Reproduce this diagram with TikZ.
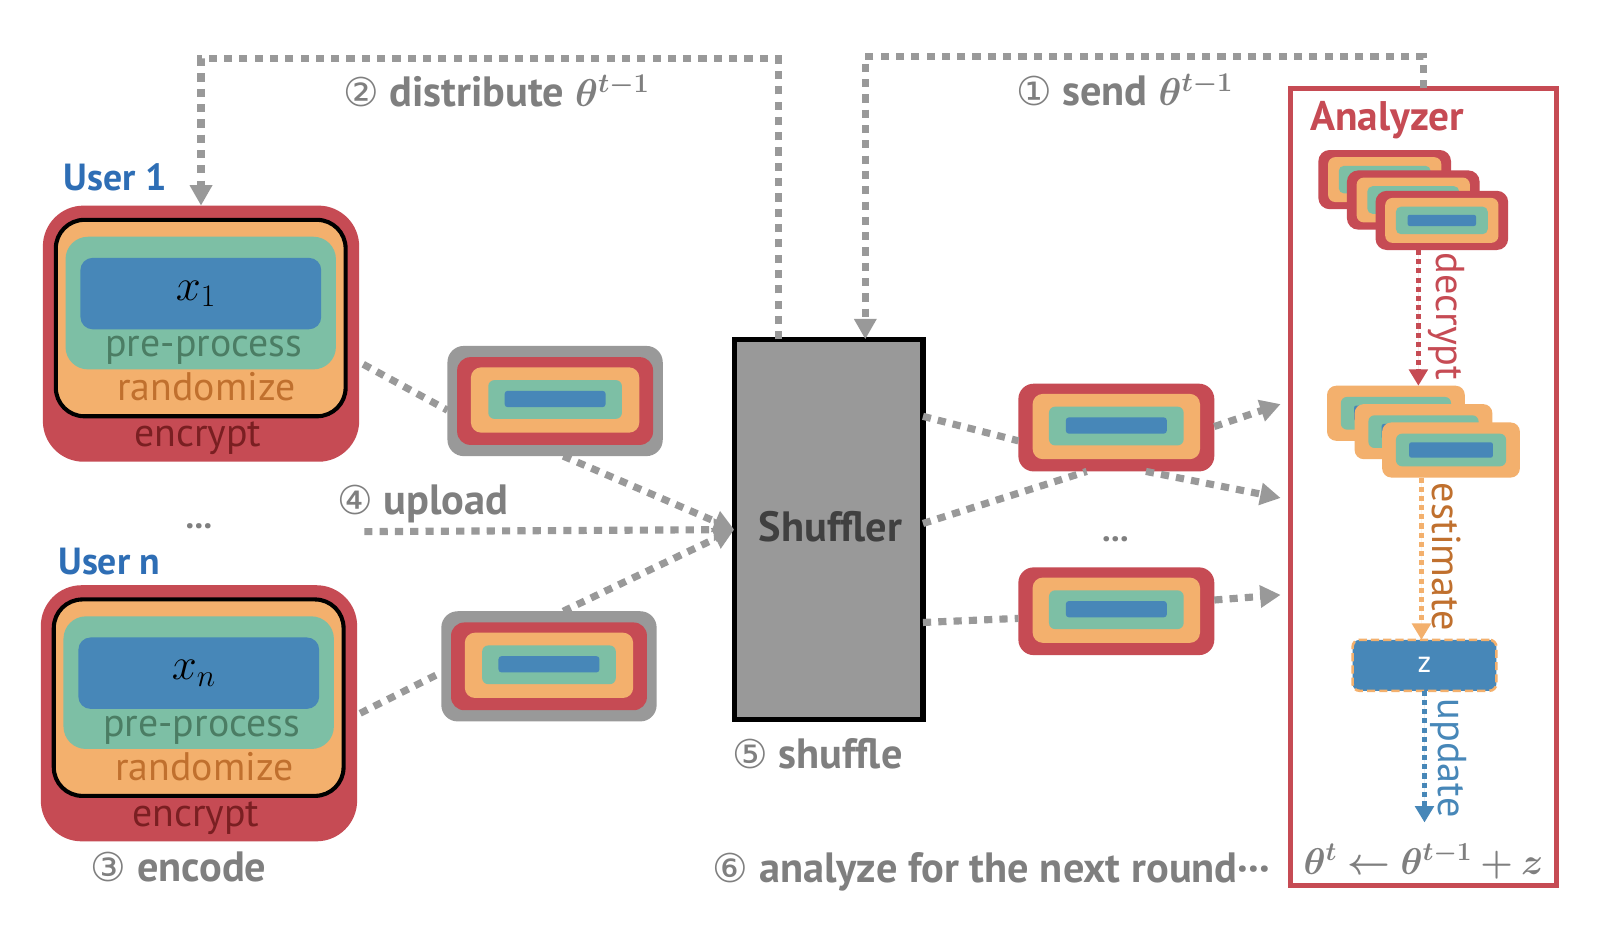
\RequirePackage{fix-cm}
\documentclass[tikz,border=0pt]{standalone}
\usepackage{amsmath,bm}
\usepackage{fontspec}
\setmainfont{PT Sans}
\newfontfamily\dvfont{DejaVu Sans}
\usetikzlibrary{arrows.meta,calc}
\definecolor{cred}{HTML}{C64B54}
\definecolor{corange}{HTML}{F3B06D}
\definecolor{cgreen}{HTML}{7DBFA5}
\definecolor{cblue}{HTML}{4787B8}
\definecolor{lgray}{HTML}{999999}
\definecolor{tgray}{HTML}{7F7F7F}
\definecolor{ublue}{HTML}{2E6EB5}
\definecolor{tgreen}{HTML}{4B7D64}
\definecolor{torange}{HTML}{C0702E}
\definecolor{tred}{HTML}{7A1F22}
\definecolor{sgray}{HTML}{404040}
\newcommand{\myfs}[1]{\fontsize{#1pt}{#1pt}\selectfont}
\newcommand{\circd}[1]{{\dvfont\mdseries\myfs{39}#1}}
\newcommand{\thetam}{{\myfs{38}$\bm{\theta^{t-1}}$}}
\tikzset{
  box/.style={rectangle, inner sep=0pt, outer sep=0pt, draw=none},
  dotline/.style={draw=lgray, line width=7pt, dash pattern=on 8pt off 7pt},
  gtip/.style={-{Triangle[length=20pt,width=21pt]}},
  lbl/.style={text=tgray, font=\bfseries\myfs{41.5}, inner sep=0pt, anchor=base},
  inlbl/.style={font=\myfs{39}, inner sep=0pt, anchor=base},
  anlbl/.style={font=\myfs{39.5}, inner sep=0pt, rotate=-90},
  smallarrow/.style={line width=4.5pt, dash pattern=on 5pt off 4pt, -{Triangle[length=16pt,width=18pt]}},
}
% user box: name, cx, cy, math
\newcommand{\userbox}[4]{%
  \node[box, fill=cred, minimum width=310pt, minimum height=251pt, rounded corners=40pt] (#1) at (#2,#3) {};
  \node[box, fill=corange, draw=black, line width=4pt, minimum width=284pt, minimum height=192.5pt, rounded corners=28pt] (#1o) at (#2-0.3,#3-15.3) {};
  \node[box, fill=cgreen, minimum width=265pt, minimum height=130pt, rounded corners=22pt] (#1g) at (#2-0.3,#3-30) {};
  \node[box, fill=cblue, minimum width=236pt, minimum height=70pt, rounded corners=12pt] (#1b) at (#2-0.2,#3-39.3) {};
  \node[inner sep=0pt, font=\myfs{44}] (#1x) at (#2-5,#3-39) {$#4$};
  \node[inlbl, text=tgreen] (#1pp) at (#2+2.7,#3+22.5) {pre-process};
  \node[inlbl, text=torange] (#1rd) at (#2+5.4,#3+65.5) {randomize};
  \node[inlbl, text=tred] (#1en) at (#2-3,#3+111) {encrypt};
}
% packet with gray layer
\newcommand{\gpacket}[3]{%
  \node[box, fill=lgray, minimum width=211pt, minimum height=108pt, rounded corners=16pt] (#1) at (#2,#3) {};
  \node[box, fill=cred, minimum width=192pt, minimum height=86pt, rounded corners=13pt] (#1r) at (#2,#3) {};
  \node[box, fill=corange, minimum width=165pt, minimum height=64pt, rounded corners=10pt] (#1o) at (#2,#3-1) {};
  \node[box, fill=cgreen, minimum width=131pt, minimum height=38pt, rounded corners=6pt] (#1g) at (#2,#3-1.5) {};
  \node[box, fill=cblue, minimum width=99pt, minimum height=16pt, rounded corners=3pt] (#1b) at (#2,#3-2) {};
}
% packet without gray layer
\newcommand{\rpacket}[3]{%
  \node[box, fill=cred, minimum width=192pt, minimum height=86pt, rounded corners=15pt] (#1) at (#2,#3) {};
  \node[box, fill=corange, minimum width=164pt, minimum height=64pt, rounded corners=10pt] (#1o) at (#2,#3-1) {};
  \node[box, fill=cgreen, minimum width=132pt, minimum height=38pt, rounded corners=6pt] (#1g) at (#2,#3-1.5) {};
  \node[box, fill=cblue, minimum width=99pt, minimum height=16pt, rounded corners=3pt] (#1b) at (#2,#3-2) {};
}
% small encrypted packet in analyzer
\newcommand{\spacket}[3]{%
  \node[box, fill=cred, minimum width=130pt, minimum height=58pt, rounded corners=11pt] (#1) at (#2,#3) {};
  \node[box, fill=corange, minimum width=111pt, minimum height=44pt, rounded corners=7pt] (#1o) at (#2,#3) {};
  \node[box, fill=cgreen, minimum width=90pt, minimum height=27pt, rounded corners=5pt] (#1g) at (#2,#3) {};
  \node[box, fill=cblue, minimum width=67pt, minimum height=11pt, rounded corners=2pt] (#1b) at (#2,#3) {};
}
% small decrypted packet in analyzer
\newcommand{\opacket}[3]{%
  \node[box, fill=corange, minimum width=135pt, minimum height=54pt, rounded corners=9pt] (#1) at (#2,#3) {};
  \node[box, fill=cgreen, minimum width=108pt, minimum height=32pt, rounded corners=6pt] (#1g) at (#2,#3) {};
  \node[box, fill=cblue, minimum width=82pt, minimum height=15pt, rounded corners=2pt] (#1b) at (#2,#3) {};
}
\begin{document}
\begin{tikzpicture}[x=1pt,y=-1pt]
\useasboundingbox[fill=white] (0,0) rectangle (1568,913.36);

% users
\userbox{uone}{197}{327}{x_1}
\userbox{un}{195}{699}{x_n}
\node[text=ublue, font=\bfseries\myfs{37}, inner sep=0pt, anchor=base west] (uonelbl) at (62,187) {User 1};
\node[text=ublue, font=\bfseries\myfs{37}, inner sep=0pt, anchor=base west] (unlbl) at (57,563) {User n};
\node[text=tgray, font=\bfseries\myfs{34}, inner sep=0pt, anchor=base] (udots) at (195,518) {...};
\node[lbl] (encode) at (175,864) {\circd{③} encode};

% packets from users
\gpacket{pa}{544}{393}
\gpacket{pb}{538}{653}
\node[lbl] (upload) at (414.5,504) {\circd{④} upload};

% shuffler
\node[box, draw=black, line width=5pt, fill=lgray, minimum width=185pt, minimum height=373pt] (shuf) at (812,519) {};
\node[text=sgray, font=\bfseries\myfs{41.5}, inner sep=0pt, anchor=base] (shuftxt) at (814,531) {Shuffler};
\node[lbl] (shuffle) at (801,753) {\circd{⑤} shuffle};

% shuffled packets
\rpacket{pc}{1094}{419}
\rpacket{pd}{1094}{599}
\node[text=tgray, font=\bfseries\myfs{34}, inner sep=0pt, anchor=base] (pdots) at (1093,531) {...};

% analyzer
\node[box, draw=cred, line width=5pt, minimum width=261pt, minimum height=781pt] (ana) at (1395,477) {};
\node[text=cred, font=\bfseries\myfs{40.5}, inner sep=0pt, anchor=base west] (analbl) at (1284,128) {Analyzer};
\spacket{sa}{1357}{176}
\spacket{sb}{1385}{196}
\spacket{sc}{1413}{216}
\opacket{oa}{1368}{405}
\opacket{ob}{1395}{423}
\opacket{oc}{1422}{441}
\node[box, fill=cblue, draw=corange, line width=2.5pt, dash pattern=on 8pt off 4pt, minimum width=141pt, minimum height=50pt, rounded corners=7pt, text=white, font=\myfs{30}] (z) at (1396,652) {z};
\coordinate (updend) at (1396,806);
\draw[smallarrow, draw=cred, fill=cred] ($(sc.south)+(-23,0)$) -- ($(oa.north)+(22,0)$);
\draw[smallarrow, draw=corange, fill=corange] ($(oc.south)+(-29,0)$) -- ($(z.north)+(-3,0)$);
\draw[smallarrow, draw=cblue, fill=cblue] (z.south) -- (updend);
\node[anlbl, text=cred] (dec) at (1418,310) {decrypt};
\node[anlbl, text=torange] (est) at (1418,546) {estimate};
\node[anlbl, text=cblue] (upd) at (1420,743) {update};
\node[lbl, font=\myfs{36.5}] (formula) at (1395,857) {$\bm{\theta^t \leftarrow \theta^{t-1} + z}$};
\node[lbl] (analyze) at (971.5,865) {\circd{⑥} analyze for the next round···};

% top labels
\node[lbl] (distr) at (486.5,104) {\circd{②} distribute \thetam};
\node[lbl] (send) at (1102,103) {\circd{①} send \thetam};

% top connectors
\draw[dotline, gtip] ($(shuf.north west)+(43,0)$) -- ++(0,-275) -| (uone.north);
\draw[dotline, gtip] (ana.north) -- ++(0,-31) -| ($(shuf.north)+(36,0)$);

% upload connectors
\coordinate (upstart) at (357,521);
\draw[dotline] ($(uone.east)+(4,30)$) -- ($(pa.west)+(0,9)$);
\draw[dotline] ($(un.east)+(3,0)$) -- ($(pb.west)+(0,6)$);
\draw[dotline, gtip] ($(pa.south)+(8,0)$) -- (shuf.west);
\draw[dotline, gtip] (upstart) -- (shuf.west);
\draw[dotline, gtip] ($(pb.north)+(14,0)$) -- (shuf.west);

% shuffle output connectors
\coordinate (ina) at (1255,396);
\coordinate (inb) at (1255,488);
\coordinate (inc) at (1255,583);
\draw[dotline] ($(shuf.east)+(0,-111)$) -- ($(pc.west)+(0,13)$);
\draw[dotline] ($(shuf.east)+(0,-6)$) -- ($(pc.south)+(-29,0)$);
\draw[dotline] ($(shuf.east)+(0,91)$) -- ($(pd.west)+(0,7)$);
\draw[dotline, gtip] ($(pc.east)+(0,-1)$) -- (ina);
\draw[dotline, gtip] ($(pc.south)+(29,0)$) -- (inb);
\draw[dotline, gtip] ($(pd.east)+(0,-11)$) -- (inc);
\end{tikzpicture}
\end{document}
